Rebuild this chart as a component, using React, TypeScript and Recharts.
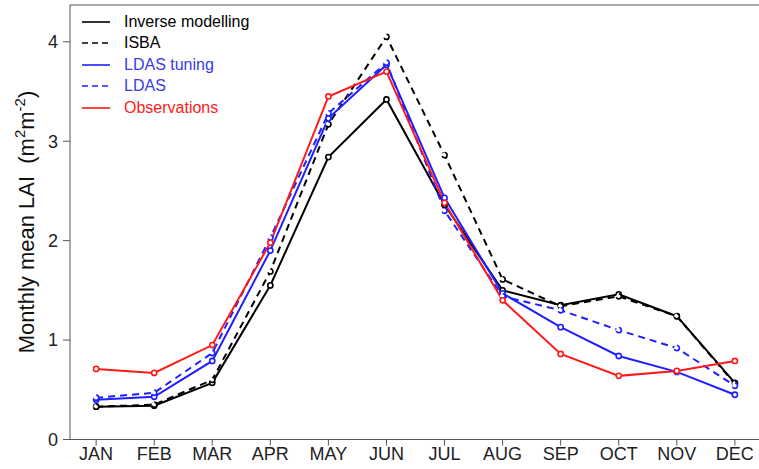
import { Line, LineChart, ReferenceLine, XAxis, YAxis } from "recharts";

const months = ["JAN", "FEB", "MAR", "APR", "MAY", "JUN", "JUL", "AUG", "SEP", "OCT", "NOV", "DEC"];
const inverseModelling = [0.33, 0.34, 0.57, 1.55, 2.84, 3.42, 2.36, 1.5, 1.35, 1.46, 1.24, 0.57];
const isba = [0.33, 0.35, 0.6, 1.69, 3.17, 4.05, 2.86, 1.61, 1.34, 1.44, 1.24, 0.56];
const ldasTuning = [0.4, 0.43, 0.79, 1.9, 3.23, 3.77, 2.43, 1.47, 1.13, 0.84, 0.68, 0.45];
const ldas = [0.42, 0.47, 0.87, 2.03, 3.28, 3.79, 2.3, 1.44, 1.3, 1.1, 0.92, 0.54];
const observations = [0.71, 0.67, 0.95, 1.98, 3.45, 3.7, 2.38, 1.4, 0.86, 0.64, 0.69, 0.79];
const yTicks = [0, 1, 2, 3, 4];

const data = months.map((m, i) => ({
  idx: i + 1,
  month: m,
  inverse: inverseModelling[i],
  isba: isba[i],
  ldasTuning: ldasTuning[i],
  ldas: ldas[i],
  obs: observations[i],
}));

const series = [
  { key: "inverse", name: "Inverse modelling", color: "#000000", text: "#000000", dash: undefined },
  { key: "isba", name: "ISBA", color: "#000000", text: "#000000", dash: "7 5" },
  { key: "ldasTuning", name: "LDAS tuning", color: "#1f1fff", text: "#3a3ae6", dash: undefined },
  { key: "ldas", name: "LDAS", color: "#1f1fff", text: "#3a3ae6", dash: "7 5" },
  { key: "obs", name: "Observations", color: "#ff1a1a", text: "#ff2020", dash: undefined },
];

const font = "'Liberation Sans', Arial, sans-serif";

function LegendBox() {
  return (
    <div style={{ position: "absolute", left: 81, top: 11, fontFamily: font, fontSize: 16 }}>
      {series.map((s) => (
        <div key={s.key} style={{ display: "flex", alignItems: "center", height: 21.5 }}>
          <svg width={30} height={10} style={{ marginRight: 13 }}>
            <line x1={1} y1={5} x2={29} y2={5} stroke={s.color} strokeWidth={1.6} strokeDasharray={s.dash ? "6 4" : undefined} />
          </svg>
          <span style={{ color: s.text }}>{s.name}</span>
        </div>
      ))}
    </div>
  );
}

function YLabel() {
  return (
    <text
      transform="translate(34, 222) rotate(-90)"
      textAnchor="middle"
      fontFamily={font}
      fontSize={22}
      fill="#111"
    >
      Monthly mean LAI{"\u00a0\u00a0"}(m
      <tspan fontSize={15} dy={-9}>2</tspan>
      <tspan dy={9}>m</tspan>
      <tspan fontSize={15} dy={-9}>-2</tspan>
      <tspan dy={9}>)</tspan>
    </text>
  );
}

export default function App() {
  return (
    <div style={{ position: "absolute", left: 0, top: 0, width: 759, height: 469, overflow: "hidden", background: "#fff" }}>
      <LineChart width={772} height={469} data={data} margin={{ top: 5, right: 11, bottom: 0, left: 0 }}>
        <XAxis
          dataKey="idx"
          type="number"
          domain={[0.55, 12.45]}
          ticks={data.map((d) => d.idx)}
          tickFormatter={(v: number) => months[v - 1]}
          interval={0}
          allowDataOverflow
          height={29.5}
          tickSize={6}
          tickMargin={2}
          stroke="#555"
          tick={{ fill: "#222", fontSize: 18, fontFamily: font }}
        />
        <YAxis
          type="number"
          domain={[0, 4.37]}
          ticks={yTicks}
          interval={0}
          allowDataOverflow
          width={70}
          tickSize={7}
          tickMargin={5}
          stroke="#555"
          tick={{ fill: "#222", fontSize: 18, fontFamily: font }}
          label={<YLabel />}
        />
        <ReferenceLine y={4.37} stroke="#555" />
        {series.map((s) => (
          <Line
            key={s.key}
            type="linear"
            dataKey={s.key}
            name={s.name}
            stroke={s.color}
            strokeWidth={2}
            strokeDasharray={s.dash}
            dot={{ r: 2.6, stroke: s.color, strokeWidth: 1.6, fill: "#fff" }}
            isAnimationActive={false}
          />
        ))}
      </LineChart>
      <LegendBox />
    </div>
  );
}
